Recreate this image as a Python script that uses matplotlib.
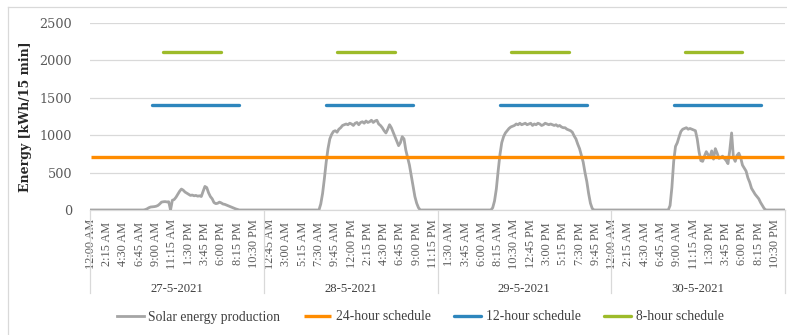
import numpy as np
import matplotlib
matplotlib.use('Agg')
import matplotlib.pyplot as plt
from matplotlib.lines import Line2D
from matplotlib.transforms import blended_transform_factory

# ---------------- data ----------------
dates = ['27-5-2021', '28-5-2021', '29-5-2021', '30-5-2021']
slots_per_day = 96  # 15-minute intervals

day1 = [0] * 30 + [5, 15, 30, 40, 42, 45, 50, 60, 80, 105, 110, 112, 108, 110, 0,
                   130, 140, 170, 210, 250, 280, 265, 240, 225, 210, 195, 200, 190,
                   195, 185, 190, 180, 250, 315, 300, 230, 180, 150, 100, 85, 90, 105,
                   95, 80, 75, 65, 55, 45, 35, 25, 15, 8] + [0] * 14
day2 = [0] * 31 + [80, 220, 420, 640, 820, 950, 1010, 1050, 1060, 1040, 1080, 1100,
                   1130, 1140, 1150, 1140, 1160, 1150, 1130, 1160, 1170, 1140, 1170,
                   1180, 1160, 1190, 1170, 1180, 1200, 1170, 1190, 1200, 1150, 1130,
                   1100, 1060, 1030, 1080, 1140, 1100, 1040, 980, 920, 860, 900, 980,
                   950, 800, 700, 600, 460, 320, 180, 90, 30] + [0] * 10
day3 = [0] * 30 + [30, 120, 280, 520, 740, 900, 980, 1030, 1060, 1090, 1110, 1120,
                   1130, 1150, 1140, 1160, 1140, 1150, 1160, 1140, 1150, 1160, 1130,
                   1150, 1140, 1160, 1150, 1130, 1140, 1160, 1150, 1140, 1150, 1140,
                   1130, 1140, 1120, 1130, 1110, 1100, 1100, 1080, 1070, 1060, 1040,
                   990, 950, 880, 820, 730, 640, 500, 380, 220, 90, 20] + [0] * 10
day4 = [0] * 32 + [60, 300, 650, 850, 900, 980, 1050, 1080, 1090, 1100, 1080, 1090,
                   1080, 1070, 1060, 950, 780, 660, 650, 720, 780, 740, 710, 790, 680,
                   820, 760, 690, 700, 720, 690, 660, 620, 800, 1030, 700, 650, 730,
                   760, 700, 600, 560, 520, 430, 370, 290, 250, 210, 180, 150, 100,
                   60, 20] + [0] * 11

schedule_24h = 705    # kWh / 15 min, all day
schedule_12h = 1410   # kWh / 15 min
schedule_8h = 2115    # kWh / 15 min
window_12h = (8.5, 20.5)   # hours of day (8:30 AM - 8:30 PM)
window_8h = (10.0, 18.0)   # hours of day (10:00 AM - 6:00 PM)

tick_every = 9  # a label every 2 h 15 min

# ---------------- build series ----------------
solar = np.array(day1 + day2 + day3 + day4, dtype=float)
n = len(solar)
idx = np.arange(n)
slot_of_day = idx % slots_per_day

s24 = np.full(n, float(schedule_24h))
s12 = np.where((slot_of_day >= window_12h[0] * 4) & (slot_of_day <= window_12h[1] * 4),
               float(schedule_12h), np.nan)
s8 = np.where((slot_of_day >= window_8h[0] * 4) & (slot_of_day <= window_8h[1] * 4),
              float(schedule_8h), np.nan)


def fmt_time(slot):
    minutes = (slot % slots_per_day) * 15
    h, m = divmod(minutes, 60)
    suffix = 'AM' if h < 12 else 'PM'
    h12 = h % 12
    if h12 == 0:
        h12 = 12
    return f'{h12}:{m:02d} {suffix}'


tick_pos = np.arange(0, n, tick_every)
tick_labels = [fmt_time(p) for p in tick_pos]

# ---------------- plot ----------------
W, H = 787, 335
fig = plt.figure(figsize=(W / 100, H / 100), dpi=100)
L, R, T, B = 90, 785, 23, 210
ax = fig.add_axes([L / W, 1 - B / H, (R - L) / W, (B - T) / H])

c_solar = '#a5a5a5'
c_24 = '#ff8c00'
c_12 = '#2e86bd'
c_8 = '#9dbb2a'

ax.plot(idx, solar, color=c_solar, lw=2.0, label='Solar energy production', zorder=3)
ax.plot(idx, s24, color=c_24, lw=2.4, label='24-hour schedule', zorder=4, solid_capstyle='butt')
ax.plot(idx, s12, color=c_12, lw=2.4, label='12-hour schedule', zorder=4, solid_capstyle='round')
ax.plot(idx, s8, color=c_8, lw=2.4, label='8-hour schedule', zorder=4, solid_capstyle='round')

ax.set_xlim(-0.5, n - 0.5)
ax.set_ylim(0, 2500)
ax.set_yticks([0, 500, 1000, 1500, 2000, 2500])
ax.yaxis.grid(True, color='#d9d9d9', lw=0.9)
ax.set_axisbelow(True)
for s in ['top', 'right', 'left']:
    ax.spines[s].set_visible(False)
ax.spines['bottom'].set_color('#d9d9d9')
ax.spines['bottom'].set_linewidth(0.9)

ax.tick_params(axis='y', length=0, pad=13, labelsize=9.2, labelcolor='#595959')
for lab in ax.get_yticklabels():
    lab.set_family('DejaVu Serif')

ax.set_xticks(tick_pos)
ax.set_xticklabels(tick_labels, rotation=90, fontsize=8.8, color='#595959',
                   family='Liberation Serif')
ax.tick_params(axis='x', length=0, pad=24.5)
for lab in ax.get_xticklabels():
    lab.set_va('center')
    lab.set_ha('center')

ax.set_ylabel('Energy [kWh/15 min]', family='DejaVu Serif', fontweight='bold',
              fontsize=9, color='#262626')
ax.yaxis.set_label_coords(-(L - 32) / (R - L), 0.5)

# group separators and date labels
trans = blended_transform_factory(ax.transData, ax.transAxes)
ax_h = B - T
sep_bottom = -(293 - B) / ax_h
for d in range(len(dates) + 1):
    x = d * slots_per_day - 0.5
    ax.add_line(Line2D([x, x], [0, sep_bottom], transform=trans, color='#d9d9d9',
                       lw=0.9, clip_on=False))
for d, lab in enumerate(dates):
    ax.text(d * slots_per_day + slots_per_day / 2 - 0.5, -(289 - B) / ax_h, lab,
            transform=trans, ha='center', va='center', fontsize=9.2,
            family='Liberation Serif', color='#404040')

# legend
leg = fig.legend(loc='center', bbox_to_anchor=(420 / W, 1 - 317 / H), ncol=4,
                 frameon=False, prop={'family': 'Liberation Serif', 'size': 9.8},
                 handlelength=2.0, handletextpad=0.35, columnspacing=1.7)
for t in leg.get_texts():
    t.set_color('#404040')

# chart-area border (top and left visible)
fig.add_artist(Line2D([8 / W, 1], [1 - 7 / H, 1 - 7 / H], transform=fig.transFigure,
                      color='#d9d9d9', lw=0.9))
fig.add_artist(Line2D([8 / W, 8 / W], [0, 1 - 7 / H], transform=fig.transFigure,
                      color='#d9d9d9', lw=0.9))

fig.savefig('out.png', dpi=100)
